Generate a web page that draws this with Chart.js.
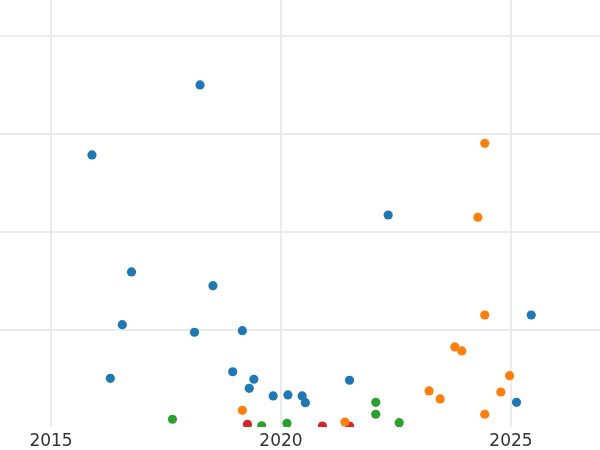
<!DOCTYPE html>
<html>
<head>
<meta charset="utf-8">
<script src="https://cdn.jsdelivr.net/npm/chart.js@4"></script>
<style>
  html, body { margin: 0; padding: 0; background: #fff; }
  #wrap { width: 600px; height: 450px; }
</style>
</head>
<body>
<div id="wrap"><canvas id="scatterChart" width="600" height="450"></canvas></div>
<script>
// valori (anno, valore)
const xTicks = [2015, 2020, 2025];
const yTicks = [10, 20, 30, 40];

const blueX = [2018.24, 2015.89, 2022.33, 2016.75, 2018.52, 2016.55, 2018.12, 2019.16, 2018.95, 2016.29,
               2019.41, 2019.31, 2019.83, 2020.15, 2020.46, 2020.53, 2021.49, 2025.44, 2025.12];
const blueY = [35.0, 27.86, 21.73, 15.92, 14.52, 10.54, 9.77, 9.93, 5.74, 5.07,
               4.97, 4.05, 3.27, 3.37, 3.27, 2.58, 4.87, 11.53, 2.62];

const orangeX = [2024.43, 2024.28, 2024.43, 2023.78, 2023.93, 2023.22, 2023.46, 2024.97, 2024.78, 2024.43, 2021.39, 2019.16];
const orangeY = [29.05, 21.5, 11.53, 8.27, 7.86, 3.78, 2.96, 5.34, 3.67, 1.4, 0.61, 1.8];

const greenX = [2017.64, 2019.58, 2020.13, 2022.06, 2022.06, 2022.57];
const greenY = [0.89, 0.23, 0.47, 2.62, 1.4, 0.54];

const redX = [2019.27, 2020.9, 2021.49];
const redY = [0.38, 0.2, 0.2];

// coppie {x, y} per Chart.js
function toPoints(xs, ys) {
    return xs.map((x, i) => ({ x: x, y: ys[i] }));
}

function makeSet(xs, ys, color) {
    return {
        data: toPoints(xs, ys),
        backgroundColor: color,
        borderWidth: 0,
        pointRadius: 4.6,
        clip: 0,
    };
}

const CTX = document.getElementById("scatterChart").getContext("2d");

const chart = new Chart(CTX, {
    type: "scatter",
    data: {
        datasets: [
            makeSet(blueX, blueY, "#1f77b4"),
            makeSet(orangeX, orangeY, "#ff7f0e"),
            makeSet(greenX, greenY, "#2ca02c"),
            makeSet(redX, redY, "#d62728"),
        ],
    },
    options: {
        responsive: false,
        animation: false,
        layout: { padding: 0, autoPadding: false },
        scales: {
            x: {
                type: "linear",
                min: 2013.891,
                max: 2026.935,
                afterBuildTicks: (axis) => {
                    axis.ticks = xTicks.map((v) => ({ value: v }));
                },
                afterFit: (axis) => {
                    axis.height = 23; // area del grafico fino a y=427
                },
                border: { display: false },
                grid: {
                    color: "#ebebeb",
                    lineWidth: 2,
                    drawTicks: false,
                },
                ticks: {
                    color: "#333333",
                    padding: 4,
                    maxRotation: 0,
                    font: { family: "DejaVu Sans", size: 17 },
                    callback: (v) => String(v),
                },
            },
            y: {
                type: "linear",
                min: 0.1,
                max: 43.67,
                afterBuildTicks: (axis) => {
                    axis.ticks = yTicks.map((v) => ({ value: v }));
                },
                border: { display: false },
                grid: {
                    color: "#ebebeb",
                    lineWidth: 2,
                    drawTicks: false,
                },
                ticks: { display: false },
            },
        },
        plugins: {
            legend: { display: false },
            tooltip: { enabled: false },
        },
    },
});
</script>
</body>
</html>
